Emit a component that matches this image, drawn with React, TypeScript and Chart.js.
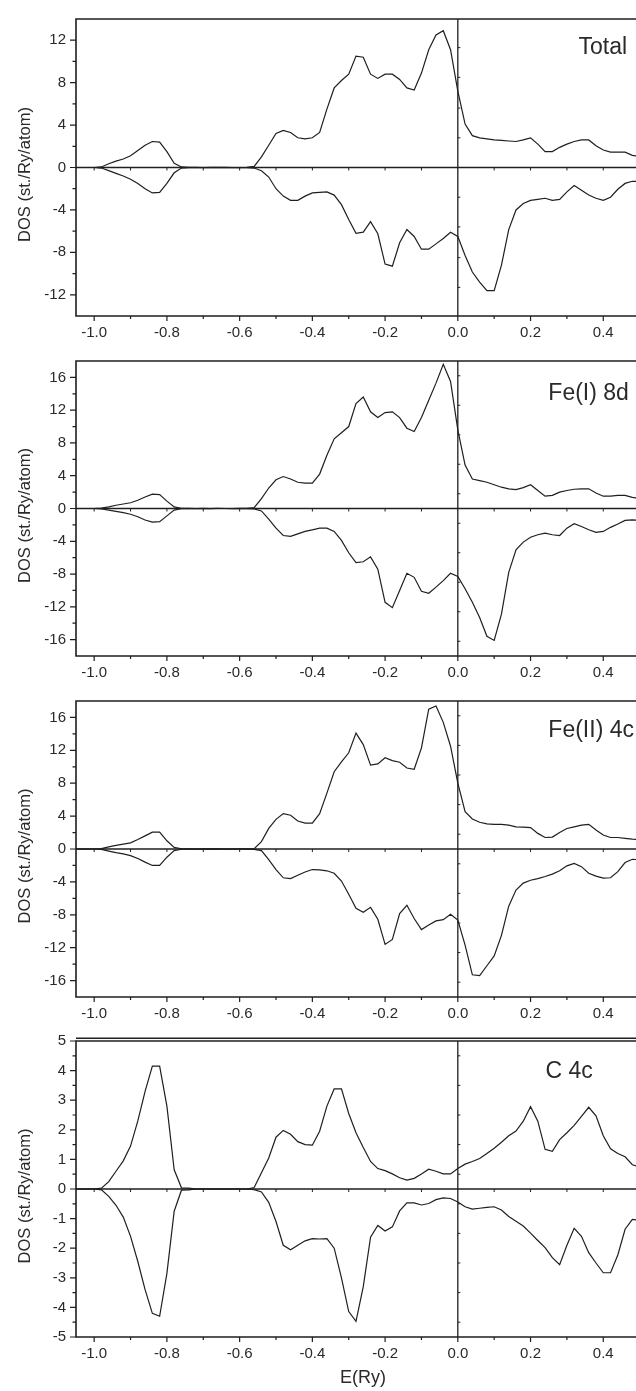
import React, { useEffect, useRef } from "react";
import { Chart, registerables } from "chart.js";

Chart.register(...registerables);

// Energy grid (Ry)
const E = [
  -1.06, -1.04, -1.02, -1.0, -0.98,
  -0.96, -0.94, -0.92, -0.9, -0.88, -0.86, -0.84, -0.82, -0.8, -0.78, -0.76,
  -0.74, -0.72, -0.7, -0.68, -0.66, -0.64, -0.62, -0.6, -0.58,
  -0.56, -0.54, -0.52, -0.5, -0.48, -0.46, -0.44, -0.42, -0.4, -0.38,
  -0.36, -0.34, -0.32, -0.3, -0.28, -0.26, -0.24, -0.22, -0.2, -0.18, -0.16, -0.14, -0.12, -0.1, -0.08, -0.06, -0.04, -0.02,
  0.0, 0.02, 0.04, 0.06, 0.08, 0.1, 0.12, 0.14, 0.16, 0.18, 0.2, 0.22, 0.24, 0.26, 0.28, 0.3, 0.32, 0.34, 0.36, 0.38, 0.4, 0.42, 0.44, 0.46, 0.48, 0.5,
];

const TOTAL_UP = [
  0, 0, 0, 0, 0.05,
  0.35, 0.6, 0.8, 1.1, 1.6, 2.1, 2.45, 2.4, 1.5, 0.4, 0.05,
  0.02, 0.01, 0, 0.01, 0.02, 0.01, 0, 0, 0.02,
  0.1, 1.0, 2.1, 3.2, 3.5, 3.3, 2.8, 2.7, 2.8, 3.3,
  5.5, 7.5, 8.2, 8.8, 10.5, 10.4, 8.8, 8.4, 8.8, 8.8, 8.3, 7.5, 7.3, 8.9, 11.1, 12.5, 12.9, 11.1,
  7.2, 4.1, 3.0, 2.8, 2.7, 2.6, 2.55, 2.5, 2.45, 2.6, 2.8, 2.2, 1.5, 1.5, 1.9, 2.2, 2.45, 2.6, 2.6, 2.05, 1.65, 1.45, 1.45, 1.45, 1.15, 1.05,
];
const TOTAL_DN = [
  0, 0, 0, 0, -0.05,
  -0.3, -0.55, -0.8, -1.1, -1.5, -2.0, -2.4, -2.35, -1.5, -0.5, -0.05,
  -0.01, -0.02, 0, -0.01, -0.02, 0, -0.01, -0.02, -0.01,
  -0.05, -0.3, -0.9, -2.0, -2.7, -3.1, -3.1, -2.7, -2.4, -2.35,
  -2.3, -2.6, -3.5, -4.9, -6.2, -6.1, -5.1, -6.25, -9.1, -9.3, -7.1, -5.85, -6.5, -7.7, -7.7, -7.2, -6.7, -6.1,
  -6.5, -8.3, -9.85, -10.8, -11.6, -11.6, -9.2, -5.85, -4.0, -3.4, -3.1, -3.0, -2.9, -3.1, -3.0, -2.3, -1.7, -2.15, -2.6, -2.9, -3.1, -2.8, -2.05, -1.5, -1.3, -1.3,
];

const FE1_UP = [
  0, 0, 0, 0, 0.05,
  0.2, 0.4, 0.55, 0.7, 1.0, 1.4, 1.75, 1.7, 0.9, 0.2, 0.03,
  0.01, 0, 0.01, 0, 0.01, 0, 0, 0.01, 0.02,
  0.1, 1.2, 2.5, 3.5, 3.9, 3.6, 3.2, 3.1, 3.1, 4.2,
  6.5, 8.5, 9.25, 10.0, 12.8, 13.6, 11.8, 11.1, 11.7, 11.8, 11.1, 9.8, 9.4, 11.1, 13.2, 15.3, 17.6, 15.5,
  9.6, 5.3, 3.6, 3.4, 3.2, 2.9, 2.6, 2.4, 2.3, 2.55, 2.9, 2.2, 1.5, 1.6, 2.0, 2.2, 2.35, 2.4, 2.4, 1.9, 1.5, 1.5, 1.6, 1.6, 1.35, 1.25,
];
const FE1_DN = [
  0, 0, 0, 0, -0.05,
  -0.2, -0.35, -0.5, -0.7, -1.0, -1.4, -1.65, -1.6, -0.9, -0.2, -0.03,
  0, -0.01, 0, -0.01, 0, 0, -0.01, 0, -0.01,
  -0.05, -0.3, -1.3, -2.4, -3.3, -3.4, -3.1, -2.8, -2.6, -2.4,
  -2.4, -2.8, -3.9, -5.4, -6.6, -6.5, -5.9, -7.4, -11.45, -12.1, -10.0, -7.9, -8.4, -10.1, -10.35, -9.6, -8.8, -7.9,
  -8.3, -9.8, -11.45, -13.3, -15.6, -16.1, -12.9, -7.8, -5.05, -4.1, -3.5, -3.2, -3.0, -3.2, -3.3, -2.4, -1.85, -2.2, -2.6, -2.9, -2.8, -2.3, -1.9, -1.45, -1.4, -1.45,
];

const FE2_UP = [
  0, 0, 0, 0, 0.05,
  0.25, 0.45, 0.6, 0.75, 1.15, 1.6, 2.05, 2.05, 1.0, 0.2, 0.03,
  0.01, 0, 0.01, 0.02, 0.01, 0, -0.02, 0.01, 0.02,
  0.05, 0.9, 2.5, 3.6, 4.3, 4.1, 3.4, 3.15, 3.15, 4.3,
  6.8, 9.4, 10.6, 11.7, 14.1, 12.7, 10.2, 10.35, 11.1, 10.75, 10.55, 9.85, 9.7, 12.3, 17.0, 17.4, 15.4, 12.5,
  8.0, 4.55, 3.65, 3.25, 3.05, 3.0, 3.0, 2.9, 2.7, 2.65, 2.6, 1.9, 1.4, 1.45, 2.0, 2.5, 2.7, 2.9, 3.0, 2.3, 1.7, 1.4, 1.4, 1.3, 1.2, 1.15,
];
const FE2_DN = [
  0, 0, 0, 0, -0.05,
  -0.25, -0.45, -0.6, -0.8, -1.15, -1.6, -2.0, -2.0, -1.0, -0.2, -0.03,
  0, -0.01, 0, -0.01, 0, -0.01, 0, 0, -0.01,
  -0.05, -0.2, -1.3, -2.5, -3.5, -3.6, -3.2, -2.8, -2.5, -2.55,
  -2.65, -2.95, -3.9, -5.5, -7.2, -7.7, -7.1, -8.55, -11.6, -11.0, -7.85, -6.85, -8.45, -9.8, -9.25, -8.75, -8.6, -7.95,
  -8.65, -11.7, -15.3, -15.4, -14.2, -13.0, -10.5, -6.95, -5.0, -4.15, -3.8, -3.6, -3.35, -3.05, -2.65, -2.05, -1.75, -2.15, -2.95, -3.3, -3.55, -3.5, -2.75, -1.65, -1.25, -1.3,
];

const C_UP = [
  0, 0, 0, 0, 0.03,
  0.25, 0.6, 0.95, 1.45, 2.3, 3.3, 4.15, 4.15, 2.8, 0.65, 0.04,
  0.03, 0, 0, 0, 0, 0, 0, 0, 0,
  0.05, 0.55, 1.05, 1.75, 1.98, 1.85, 1.6, 1.5, 1.48, 1.95,
  2.8, 3.38, 3.38, 2.55, 1.9, 1.4, 0.93, 0.69, 0.62, 0.51, 0.38, 0.3, 0.36, 0.51, 0.67, 0.6, 0.51, 0.51,
  0.69, 0.84, 0.93, 1.03, 1.2, 1.38, 1.58, 1.8, 1.96, 2.29, 2.78, 2.29, 1.34, 1.27, 1.67, 1.9, 2.15, 2.45, 2.76, 2.47, 1.8, 1.36, 1.2, 1.09, 0.82, 0.75,
];
const C_DN = [
  0, 0, 0, 0, -0.03,
  -0.25, -0.55, -0.95, -1.6, -2.45, -3.4, -4.2, -4.3, -2.85, -0.75, -0.04,
  -0.03, 0, 0, 0, 0, 0, 0, 0, 0,
  -0.02, -0.1, -0.45, -1.1, -1.9, -2.05, -1.9, -1.75, -1.68, -1.69,
  -1.68, -2.0, -3.0, -4.14, -4.47, -3.3, -1.63, -1.23, -1.42, -1.28, -0.74, -0.47, -0.47, -0.54, -0.49, -0.36, -0.3, -0.32,
  -0.44, -0.6, -0.68, -0.65, -0.62, -0.6, -0.71, -0.93, -1.09, -1.25, -1.49, -1.74, -1.98, -2.32, -2.56, -1.9, -1.33, -1.6, -2.15, -2.5, -2.83, -2.83, -2.23, -1.36, -1.03, -1.05,
];

// Tick values
const X_MAJOR = [-1.0, -0.8, -0.6, -0.4, -0.2, 0.0, 0.2, 0.4];
const X_MINOR = [-0.9, -0.7, -0.5, -0.3, -0.1, 0.1, 0.3];
const X_ZERO_TICKS = [-1.0, -0.9, -0.8, -0.7, -0.6, -0.5, -0.4, -0.3, -0.2, -0.1, 0.1, 0.2, 0.3, 0.4];

const Y1_MAJOR = [-12, -8, -4, 0, 4, 8, 12];
const Y1_MINOR = [-10, -6, -2, 2, 6, 10];
const Y1_ZERO_TICKS = [-11.3, -8.5, -5.6, -2.8, 2.8, 5.6, 8.5, 11.3];

const Y2_MAJOR = [-16, -12, -8, -4, 0, 4, 8, 12, 16];
const Y2_MINOR = [-14, -10, -6, -2, 2, 6, 10, 14];
const Y2_ZERO_TICKS = [-16.2, -12.6, -9, -5.4, -1.8, 1.8, 5.4, 9, 12.6, 16.2];

const Y4_MAJOR = [-5, -4, -3, -2, -1, 0, 1, 2, 3, 4, 5];
const Y4_MINOR = [-4.5, -3.5, -2.5, -1.5, -0.5, 0.5, 1.5, 2.5, 3.5, 4.5];
const Y4_ZERO_TICKS = [-4.5, -3.5, -2.5, -1.5, -0.5, 0.5, 1.5, 2.5, 3.5, 4.5];

const LABELS = ["Total", "Fe(I) 8d", "Fe(II) 4c", "C 4c"];
const Y_TITLE = "DOS (st./Ry/atom)";
const X_TITLE = "E(Ry)";

const FONT = "'Liberation Sans', Arial, Helvetica, sans-serif";
const INK = "#1f1f1f";
const TEXT = "#2a2a2a";
const W = 636;

type Panel = {
  up: number[];
  dn: number[];
  yMin: number;
  yMax: number;
  yMajor: number[];
  yMinor: number[];
  zeroTicks: number[];
  label: string;
  labelX: number;
  labelY: number;
  top: number; // canvas top in page
  plotH: number;
  extraBottom: number;
  doubleTop?: boolean;
  xTitle?: boolean;
};

const PANELS: Panel[] = [
  { up: TOTAL_UP, dn: TOTAL_DN, yMin: -14, yMax: 14, yMajor: Y1_MAJOR, yMinor: Y1_MINOR, zeroTicks: Y1_ZERO_TICKS, label: LABELS[0], labelX: 0.332, labelY: 11.3, top: 0, plotH: 306, extraBottom: 0 },
  { up: FE1_UP, dn: FE1_DN, yMin: -18, yMax: 18, yMajor: Y2_MAJOR, yMinor: Y2_MINOR, zeroTicks: Y2_ZERO_TICKS, label: LABELS[1], labelX: 0.249, labelY: 14.0, top: 342, plotH: 304, extraBottom: 0 },
  { up: FE2_UP, dn: FE2_DN, yMin: -18, yMax: 18, yMajor: Y2_MAJOR, yMinor: Y2_MINOR, zeroTicks: Y2_ZERO_TICKS, label: LABELS[2], labelX: 0.249, labelY: 14.4, top: 682, plotH: 305, extraBottom: 0 },
  { up: C_UP, dn: C_DN, yMin: -5, yMax: 5, yMajor: Y4_MAJOR, yMinor: Y4_MINOR, zeroTicks: Y4_ZERO_TICKS, label: LABELS[3], labelX: 0.241, labelY: 3.95, top: 1022, plotH: 305, extraBottom: 24, doubleTop: true, xTitle: true },
];

const PAD_TOP = 10;
const X_AXIS_H = 30;
const Y_AXIS_W = 76;
const X_MIN = -1.05;
const X_MAX = 0.49;

function makeDecor(p: Panel) {
  return {
    id: "decor",
    afterDraw(chart: any) {
      const { ctx, chartArea, scales } = chart;
      const { left, right, top, bottom } = chartArea;
      const xs = scales.x;
      const ys = scales.y;
      ctx.save();
      ctx.strokeStyle = INK;
      ctx.lineCap = "butt";

      // zero lines
      const y0 = ys.getPixelForValue(0);
      const x0 = xs.getPixelForValue(0);
      ctx.lineWidth = 1.3;
      ctx.beginPath();
      ctx.moveTo(left, y0);
      ctx.lineTo(right, y0);
      ctx.moveTo(x0, top);
      ctx.lineTo(x0, bottom);
      ctx.stroke();

      ctx.lineWidth = 1;
      ctx.beginPath();
      X_ZERO_TICKS.forEach((v) => {
        const px = xs.getPixelForValue(v);
        ctx.moveTo(px, y0);
        ctx.lineTo(px, y0 + 3);
      });
      p.zeroTicks.forEach((v) => {
        const py = ys.getPixelForValue(v);
        ctx.moveTo(x0, py);
        ctx.lineTo(x0 + 2.5, py);
      });
      ctx.stroke();

      // frame (left, top, bottom)
      ctx.lineWidth = 1.6;
      ctx.beginPath();
      ctx.moveTo(right, top);
      ctx.lineTo(left, top);
      ctx.lineTo(left, bottom);
      ctx.lineTo(right, bottom);
      if (p.doubleTop) {
        ctx.moveTo(left, top - 2.7);
        ctx.lineTo(right, top - 2.7);
      }
      ctx.stroke();

      // axis ticks
      ctx.lineWidth = 1.2;
      ctx.beginPath();
      p.yMajor.forEach((v) => {
        const py = ys.getPixelForValue(v);
        ctx.moveTo(left - 6, py);
        ctx.lineTo(left, py);
      });
      p.yMinor.forEach((v) => {
        const py = ys.getPixelForValue(v);
        ctx.moveTo(left - 3.5, py);
        ctx.lineTo(left, py);
      });
      X_MAJOR.forEach((v) => {
        const px = xs.getPixelForValue(v);
        ctx.moveTo(px, bottom);
        ctx.lineTo(px, bottom + 5);
      });
      X_MINOR.forEach((v) => {
        const px = xs.getPixelForValue(v);
        ctx.moveTo(px, bottom);
        ctx.lineTo(px, bottom + 3);
      });
      ctx.stroke();

      // panel label
      ctx.fillStyle = TEXT;
      ctx.font = `23px ${FONT}`;
      ctx.textAlign = "left";
      ctx.textBaseline = "middle";
      ctx.fillText(p.label, xs.getPixelForValue(p.labelX), ys.getPixelForValue(p.labelY));

      // y title
      ctx.save();
      ctx.font = `16.5px ${FONT}`;
      ctx.textAlign = "center";
      ctx.textBaseline = "middle";
      ctx.translate(25, (top + bottom) / 2 + 7);
      ctx.rotate(-Math.PI / 2);
      ctx.fillText(Y_TITLE, 0, 0);
      ctx.restore();

      // x title
      if (p.xTitle) {
        ctx.font = `18px ${FONT}`;
        ctx.textAlign = "center";
        ctx.textBaseline = "middle";
        ctx.fillText(X_TITLE, (left + right) / 2 + 7, bottom + 41);
      }
      ctx.restore();
    },
  };
}

function PanelChart({ p }: { p: Panel }) {
  const ref = useRef<HTMLCanvasElement | null>(null);
  const height = PAD_TOP + p.plotH + X_AXIS_H + p.extraBottom;

  useEffect(() => {
    if (!ref.current) return;
    const mk = (vals: number[]) => E.map((x, i) => ({ x, y: vals[i] }));
    const ds = (vals: number[]) => ({
      data: mk(vals),
      borderColor: INK,
      borderWidth: 1.2,
      pointRadius: 0,
      tension: 0,
      fill: false,
    });
    const chart = new Chart(ref.current, {
      type: "line",
      data: { datasets: [ds(p.up), ds(p.dn)] },
      plugins: [makeDecor(p)],
      options: {
        animation: false,
        responsive: false,
        maintainAspectRatio: false,
        layout: { padding: { top: PAD_TOP, left: 0, right: 0, bottom: p.extraBottom } },
        plugins: { legend: { display: false }, tooltip: { enabled: false } },
        scales: {
          x: {
            type: "linear",
            min: X_MIN,
            max: X_MAX,
            grid: { display: false, drawTicks: false, tickLength: 0 },
            border: { display: false },
            afterBuildTicks: (s: any) => {
              s.ticks = X_MAJOR.map((v) => ({ value: v }));
            },
            afterFit: (s: any) => {
              s.height = X_AXIS_H;
            },
            ticks: {
              padding: 8,
              maxRotation: 0,
              autoSkip: false,
              color: TEXT,
              font: { family: FONT, size: 15 },
              callback: (v: any) => Number(v).toFixed(1),
            },
          },
          y: {
            type: "linear",
            min: p.yMin,
            max: p.yMax,
            grid: { display: false, drawTicks: false, tickLength: 0 },
            border: { display: false },
            afterBuildTicks: (s: any) => {
              s.ticks = p.yMajor.map((v) => ({ value: v }));
            },
            afterFit: (s: any) => {
              s.width = Y_AXIS_W;
            },
            ticks: {
              padding: 10,
              autoSkip: false,
              color: TEXT,
              font: { family: FONT, size: 15 },
              callback: (v: any) => String(v),
            },
          },
        },
      },
    });
    return () => chart.destroy();
  }, [p]);

  return (
    <canvas
      ref={ref}
      width={W}
      height={height}
      style={{ position: "absolute", left: 0, top: p.top, width: W, height }}
    />
  );
}

export default function App() {
  useEffect(() => {
    document.body.style.margin = "0";
    document.body.style.overflow = "hidden";
  }, []);
  return (
    <div style={{ position: "absolute", left: 0, top: 0, width: W, height: 1391, background: "#fff", overflow: "hidden" }}>
      {PANELS.map((p, i) => (
        <PanelChart key={i} p={p} />
      ))}
    </div>
  );
}
